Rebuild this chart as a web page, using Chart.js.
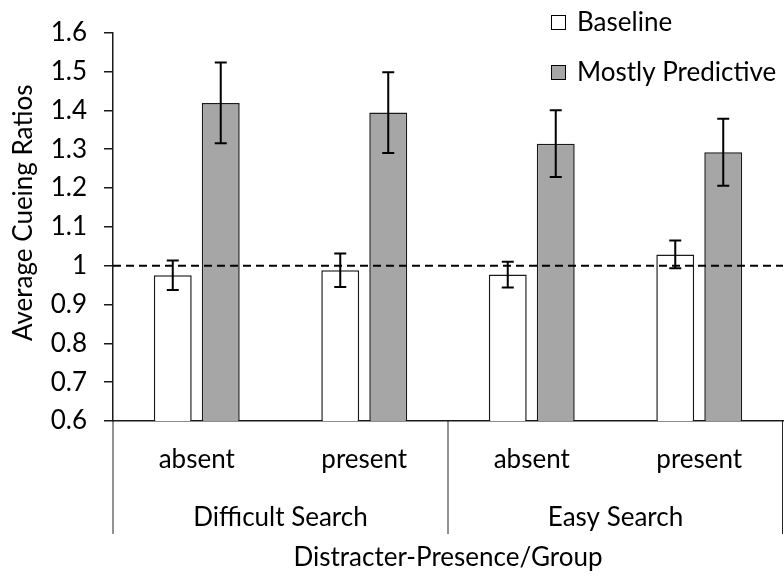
<!DOCTYPE html>
<html><head><meta charset="utf-8">
<script src="https://cdn.jsdelivr.net/npm/chart.js@4"></script>
<style>html,body{margin:0;padding:0;background:#fff}#wrap{width:784px;height:577px}</style>
</head><body><div id="wrap"><canvas id="c" width="784" height="577"></canvas></div>
<script>
// ---- data ----
const categories = ['absent', 'present', 'absent', 'present'];
const groups = ['Difficult Search', 'Easy Search'];
const seriesNames = ['Baseline', 'Mostly Predictive'];
const baseline = [0.975, 0.988, 0.977, 1.029];
const baselineErr = [0.038, 0.043, 0.033, 0.036];
const predictive = [1.419, 1.394, 1.314, 1.292];
const predictiveErr = [0.104, 0.104, 0.086, 0.086];
const yTickLabels = ['0.6', '0.7', '0.8', '0.9', '1', '1.1', '1.2', '1.3', '1.4', '1.5', '1.6'];
const referenceValue = 1;
const yTitle = 'Average Cueing Ratios';
const xTitle = 'Distracter-Presence/Group';

const FONT = 'Lato, "Open Sans", sans-serif';
const FS = 26;
const INK = '#1a1a1a';
const errs = [baselineErr, predictiveErr];

const errorBarPlugin = {
  id: 'errorBars',
  afterDatasetsDraw(chart) {
    const ctx = chart.ctx, y = chart.scales.y, area = chart.chartArea;
    ctx.save();
    ctx.strokeStyle = '#000';
    ctx.lineWidth = 2;
    ctx.setLineDash([8, 5]);
    const yr = y.getPixelForValue(referenceValue);
    ctx.beginPath(); ctx.moveTo(area.left, yr); ctx.lineTo(area.right, yr); ctx.stroke();
    ctx.setLineDash([]);
    ctx.strokeStyle = '#000';
    ctx.lineWidth = 2;
    chart.data.datasets.forEach((ds, i) => {
      const meta = chart.getDatasetMeta(i);
      meta.data.forEach((bar, j) => {
        const v = ds.data[j], e = errs[i][j];
        const yt = y.getPixelForValue(v + e), yb = y.getPixelForValue(v - e);
        const x = bar.x, cap = 6;
        ctx.beginPath();
        ctx.moveTo(x, yt); ctx.lineTo(x, yb);
        ctx.moveTo(x - cap, yt); ctx.lineTo(x + cap, yt);
        ctx.moveTo(x - cap, yb); ctx.lineTo(x + cap, yb);
        ctx.stroke();
      });
    });
    ctx.restore();
  },
  afterDraw(chart) {
    const ctx = chart.ctx, xs = chart.scales.x, area = chart.chartArea;
    const edges = [area.left, (xs.getPixelForValue(1) + xs.getPixelForValue(2)) / 2, area.right - 0.5];
    ctx.save();
    ctx.strokeStyle = '#262626';
    ctx.lineWidth = 1;
    edges.forEach(px => {
      ctx.beginPath(); ctx.moveTo(px, area.bottom); ctx.lineTo(px, area.bottom + 113); ctx.stroke();
    });
    // y-axis title
    ctx.save();
    ctx.translate(24, (area.top + area.bottom) / 2 - 14);
    ctx.rotate(-Math.PI / 2);
    ctx.font = FS + 'px ' + FONT;
    ctx.fillStyle = '#000';
    ctx.textAlign = 'center';
    ctx.textBaseline = 'middle';
    ctx.fillText(yTitle, 0, 0);
    ctx.restore();
    // legend
    const lx = area.right - 232;
    const rows = [22, 72];
    ctx.font = FS + 'px ' + FONT;
    ctx.textBaseline = 'middle';
    ctx.textAlign = 'left';
    chart.data.datasets.forEach((ds, i) => {
      const cy = rows[i];
      ctx.fillStyle = ds.backgroundColor;
      ctx.fillRect(lx, cy - 7, 15, 15);
      ctx.strokeStyle = '#000';
      ctx.lineWidth = 1;
      ctx.strokeRect(lx + 0.5, cy - 6.5, 14, 14);
      ctx.fillStyle = '#000';
      ctx.fillText(ds.label, lx + 26, cy + 1);
    });
    ctx.restore();
  }
};

new Chart(document.getElementById('c'), {
  type: 'bar',
  data: {
    labels: categories,
    datasets: [
      { label: seriesNames[0], data: baseline, backgroundColor: '#ffffff', borderColor: INK, borderWidth: 1.5 },
      { label: seriesNames[1], data: predictive, backgroundColor: '#a6a6a6', borderColor: INK, borderWidth: 1.5 }
    ]
  },
  options: {
    responsive: false,
    animation: false,
    barPercentage: 0.79,
    categoryPercentage: 0.573,
    layout: { padding: { top: 27, right: 1, bottom: 0, left: 0 } },
    plugins: { legend: { display: false }, tooltip: { enabled: false } },
    scales: {
      x: {
        type: 'category', position: 'bottom', weight: 0,
        grid: { display: false, drawTicks: false },
        border: { display: true, color: INK, width: 1.5 },
        ticks: { color: '#000', font: { family: FONT, size: FS }, padding: 23, maxRotation: 0, autoSkip: false },
        afterFit(s) { s.height = 60; }
      },
      x2: {
        type: 'category', position: 'bottom', weight: 1, labels: groups, offset: true,
        grid: { display: false, drawTicks: false },
        border: { display: false },
        ticks: { color: '#000', font: { family: FONT, size: FS }, padding: 21, maxRotation: 0, autoSkip: false },
        title: { display: true, text: xTitle, color: '#000', font: { family: FONT, size: FS }, padding: { top: 0, bottom: 4 } },
        afterFit(s) { s.height = 96; }
      },
      y: {
        min: 0.6, max: 1.6,
        ticks: {
          stepSize: 0.1, padding: 17, color: '#000', font: { family: FONT, size: FS },
          callback: v => yTickLabels[Math.round((v - 0.6) * 10)]
        },
        grid: { drawOnChartArea: false, drawTicks: true, tickLength: 9, color: INK, lineWidth: 1.5 },
        border: { display: true, color: INK, width: 1.5 },
        title: { display: false, text: yTitle },
        afterFit(s) { s.width = 113; }
      }
    }
  },
  plugins: [errorBarPlugin]
});
</script>
</body></html>
